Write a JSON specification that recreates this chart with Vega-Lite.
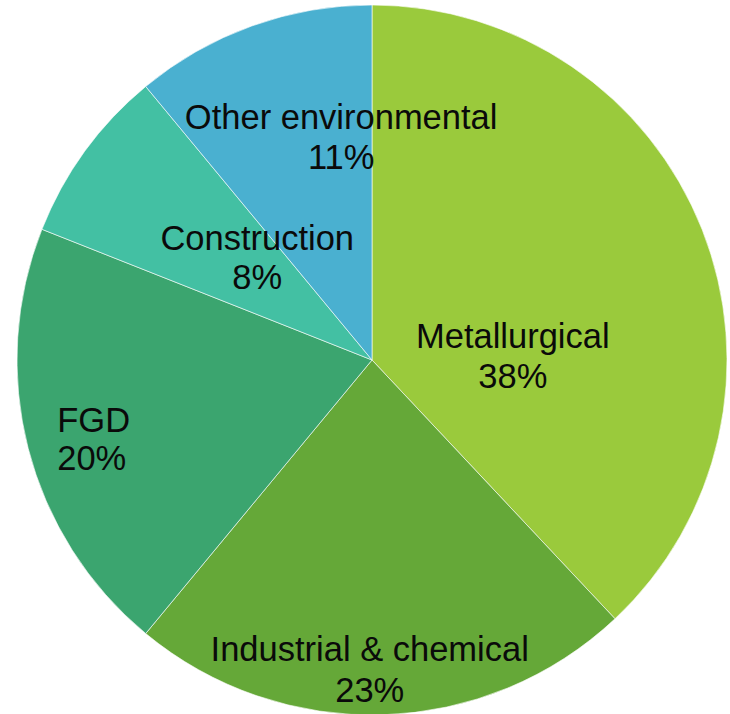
{
  "$schema": "https://vega.github.io/schema/vega-lite/v6.json",
  "width": 716,
  "height": 708,
  "autosize": {"type": "none"},
  "padding": {"left": 14, "top": 6, "right": 0, "bottom": 0},
  "background": "white",
  "config": {"view": {"stroke": null}},
  "data": {
    "values": [
      {"category": "Metallurgical", "value": 38},
      {"category": "Industrial & chemical", "value": 23},
      {"category": "FGD", "value": 20},
      {"category": "Construction", "value": 8},
      {"category": "Other environmental", "value": 11}
    ]
  },
  "transform": [
    {"calculate": "datum.category + '\\n' + datum.value + '%'", "as": "label"}
  ],
  "encoding": {
    "theta": {"field": "value", "type": "quantitative", "stack": true,
      "scale": {"range": [-0.69115, 5.592035]}},
    "order": {"field": "category", "sort": "descending"}
  },
  "layer": [
    {
      "mark": {"type": "arc", "outerRadius": 355, "stroke": "#ffffff", "strokeWidth": 1, "strokeOpacity": 0.6},
      "encoding": {
        "color": {"field": "category", "type": "nominal", "legend": null,
          "scale": {
            "domain": ["Metallurgical", "Industrial & chemical", "FGD", "Construction", "Other environmental"],
            "range": ["#9ACA3C", "#65A838", "#3BA56F", "#43C0A3", "#4AB0D0"]
          }}
      }
    },
    {
      "mark": {"type": "text", "radius": 131, "dx": 19, "dy": 26, "font": "Liberation Sans", "fontSize": 34.5, "lineHeight": 40, "lineBreak": "\n", "color": "#0a0a0a", "align": "center", "baseline": "middle"},
      "encoding": {"text": {"condition": {"test": "datum.category == 'Metallurgical'", "field": "label"}, "value": ""}}
    },
    {
      "mark": {"type": "text", "radius": 310, "dx": -12, "dy": -19, "font": "Liberation Sans", "fontSize": 34.5, "lineHeight": 41, "lineBreak": "\n", "color": "#0a0a0a", "align": "center", "baseline": "middle"},
      "encoding": {"text": {"condition": {"test": "datum.category == 'Industrial & chemical'", "field": "label"}, "value": ""}}
    },
    {
      "mark": {"type": "text", "radius": 326, "dx": 1, "dy": -19, "font": "Liberation Sans", "fontSize": 34.5, "lineHeight": 38, "lineBreak": "\n", "color": "#0a0a0a", "align": "left", "baseline": "middle"},
      "encoding": {"text": {"condition": {"test": "datum.category == 'FGD'", "field": "label"}, "value": ""}}
    },
    {
      "mark": {"type": "text", "radius": 153, "dx": 9, "dy": -30, "font": "Liberation Sans", "fontSize": 34.5, "lineHeight": 39, "lineBreak": "\n", "color": "#0a0a0a", "align": "center", "baseline": "middle"},
      "encoding": {"text": {"condition": {"test": "datum.category == 'Construction'", "field": "label"}, "value": ""}}
    },
    {
      "mark": {"type": "text", "radius": 221, "dx": 44, "dy": -33, "font": "Liberation Sans", "fontSize": 34.5, "lineHeight": 40, "lineBreak": "\n", "color": "#0a0a0a", "align": "center", "baseline": "middle"},
      "encoding": {"text": {"condition": {"test": "datum.category == 'Other environmental'", "field": "label"}, "value": ""}}
    }
  ]
}
